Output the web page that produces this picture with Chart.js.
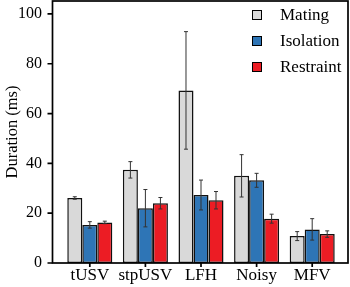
<!DOCTYPE html>
<html>
<head>
<meta charset="utf-8">
<script src="https://cdn.jsdelivr.net/npm/chart.js@4"></script>
<style>
  html, body { margin: 0; padding: 0; background: #fff; }
  #wrap { position: relative; width: 350px; height: 287px; }
  #legend { position: absolute; left: 252px; top: 2px; font: 17px "Liberation Serif", serif; color: #000; }
  .row { height: 26px; display: flex; align-items: center; }
  .box { width: 8px; height: 8px; border: 1.5px solid #000; margin-right: 18px; }
</style>
</head>
<body>
<div id="wrap">
  <canvas id="chart" width="350" height="287"></canvas>
  <div id="legend"></div>
</div>
<script>
// categorias e valores
const categories = ['tUSV', 'stpUSV', 'LFH', 'Noisy', 'MFV'];
const seriesNames = ['Mating', 'Isolation', 'Restraint'];
const colors = ['#d9d9d9', '#2e75b6', '#ec1c24'];

const mating = [26.1, 37.4, 69.3, 35.0, 10.8];
const matingErr = [0.5, 3.3, 23.6, 8.5, 1.8];
const isolation = [15.3, 22.0, 27.3, 33.2, 13.5];
const isolationErr = [1.3, 7.5, 6.0, 2.8, 4.3];
const restraint = [16.3, 24.0, 25.2, 17.8, 11.6];
const restraintErr = [0.5, 2.3, 3.5, 1.8, 1.3];

const yTicks = [0, 20, 40, 60, 80, 100];

const values = [mating, isolation, restraint];
const errors = [matingErr, isolationErr, restraintErr];

// Legenda manual
const legend = document.getElementById('legend');
seriesNames.forEach((name, i) => {
    const row = document.createElement('div');
    row.className = 'row';
    row.innerHTML = '<span class="box" style="background:' + colors[i] + '"></span>' + name;
    legend.appendChild(row);
});

// Barras de erro + moldura
const errorBars = {
    id: 'errorBars',
    afterDatasetsDraw(chart) {
        const ctx = chart.ctx;
        const y = chart.scales.y;
        ctx.save();
        ctx.strokeStyle = '#333';
        ctx.lineWidth = 1;
        chart.data.datasets.forEach((ds, di) => {
            const meta = chart.getDatasetMeta(di);
            meta.data.forEach((bar, i) => {
                const v = ds.data[i];
                const e = errors[di][i];
                const top = y.getPixelForValue(v + e);
                const bot = y.getPixelForValue(v - e);
                ctx.beginPath();
                ctx.moveTo(bar.x, top); ctx.lineTo(bar.x, bot);
                ctx.moveTo(bar.x - 2, top); ctx.lineTo(bar.x + 2, top);
                ctx.moveTo(bar.x - 2, bot); ctx.lineTo(bar.x + 2, bot);
                ctx.stroke();
            });
        });
        ctx.restore();
    },
    afterDraw(chart) {
        const ctx = chart.ctx;
        const a = chart.chartArea;
        const y = chart.scales.y;
        const x = chart.scales.x;
        const left = a.left - 9.5;
        const right = a.right + 8;
        ctx.save();
        ctx.strokeStyle = '#000';
        ctx.lineWidth = 1.7;
        ctx.strokeRect(left, a.top, right - left, a.bottom - a.top);
        ctx.beginPath();
        yTicks.forEach(t => {
            const py = y.getPixelForValue(t);
            ctx.moveTo(left - 5, py); ctx.lineTo(left, py);
        });
        categories.forEach((c, i) => {
            const px = x.getPixelForValue(i);
            ctx.moveTo(px, a.bottom); ctx.lineTo(px, a.bottom + 4);
        });
        ctx.stroke();
        ctx.restore();
    }
};

new Chart(document.getElementById('chart'), {
    type: 'bar',
    data: {
        labels: categories,
        datasets: seriesNames.map((name, i) => ({
            label: name,
            data: values[i],
            backgroundColor: colors[i],
            borderColor: '#111',
            borderWidth: 1.5,
            borderSkipped: false,
            categoryPercentage: 0.81,
            barPercentage: 1.0
        }))
    },
    options: {
        responsive: false,
        animation: false,
        layout: { padding: { top: 1, right: 10, left: 0, bottom: 0 } },
        plugins: {
            legend: { display: false },
            tooltip: { enabled: false }
        },
        scales: {
            x: {
                grid: { display: false, drawTicks: false },
                border: { display: false },
                ticks: {
                    color: '#000', padding: 2, maxRotation: 0, minRotation: 0, autoSkip: false,
                    font: { family: 'Liberation Serif', size: 17 }
                },
                afterFit: (s) => { s.height = 24; s.paddingLeft = 0; s.paddingRight = 0; }
            },
            y: {
                min: 0,
                max: 105.2,
                afterBuildTicks: (s) => { s.ticks = yTicks.map(v => ({ value: v })); },
                grid: { display: false, drawTicks: false },
                border: { display: false },
                ticks: { color: '#000', padding: 20, font: { family: 'Liberation Serif', size: 16 } },
                title: {
                    display: true,
                    text: 'Duration (ms)',
                    color: '#000',
                    padding: { top: 3, bottom: 0 },
                    font: { family: 'Liberation Serif', size: 16.5 }
                },
                afterFit: (s) => { s.width = 62; s.paddingTop = 0; s.paddingBottom = 0; }
            }
        }
    },
    plugins: [errorBars]
});
</script>
</body>
</html>
